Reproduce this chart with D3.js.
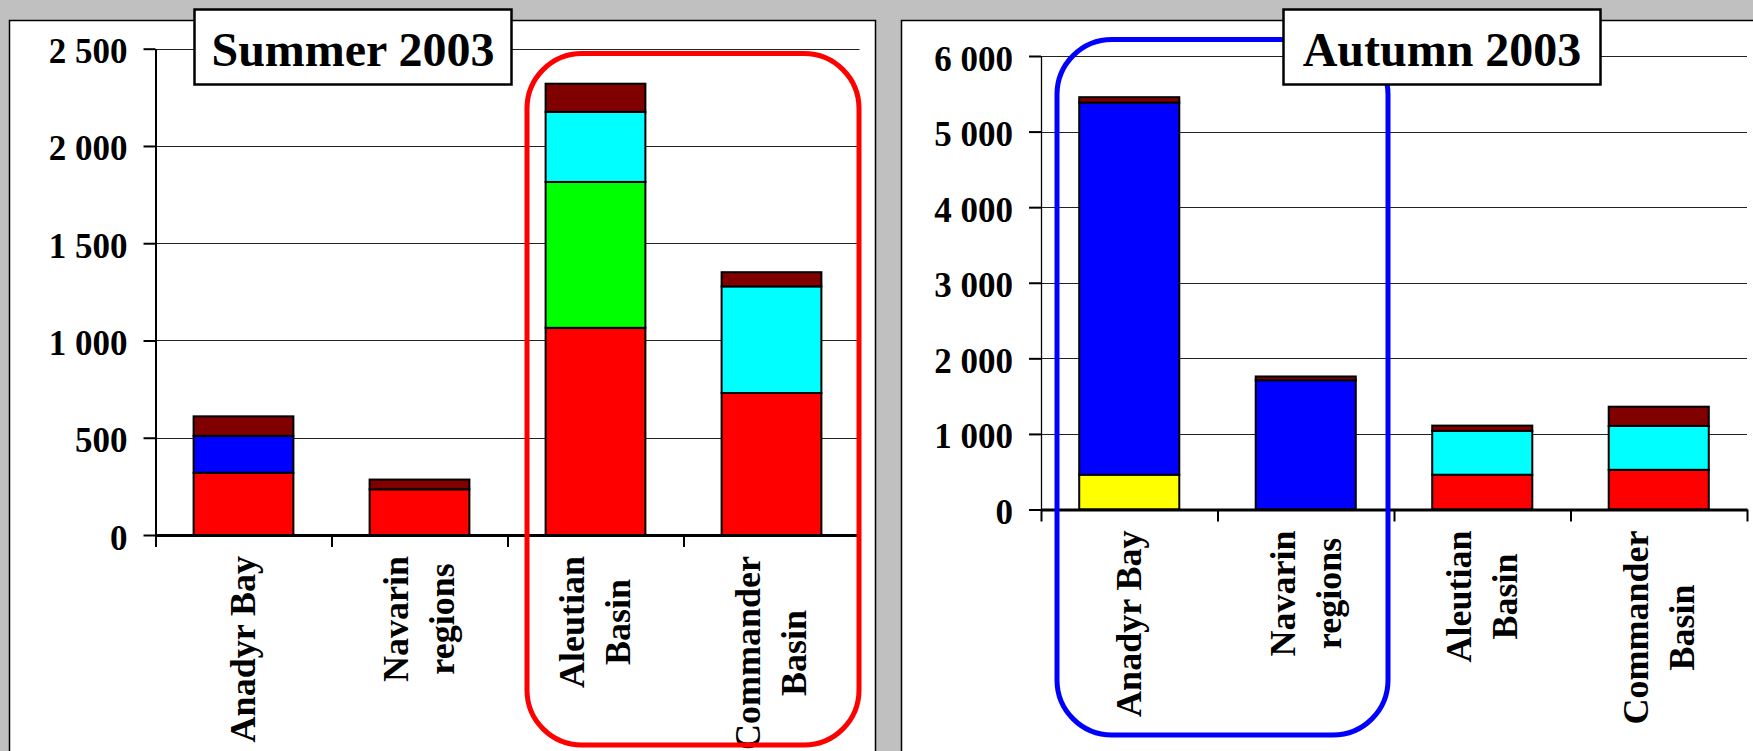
<!DOCTYPE html>
<html>
<head>
<meta charset="utf-8">
<script src="https://cdn.jsdelivr.net/npm/d3@7"></script>
<style>
  html, body { margin: 0; padding: 0; background: #C0C0C0; }
  svg { display: block; }
  text { font-family: "Liberation Serif", "Times New Roman", serif; font-weight: bold; fill: #000; }
</style>
</head>
<body>
<svg id="chart" width="1753" height="751"></svg>
<script>
// ---------- DATA ----------
const categories = ["Anadyr Bay", "Navarin regions", "Aleutian Basin", "Commander Basin"];
const categoryLines = [["Anadyr Bay"], ["Navarin", "regions"], ["Aleutian", "Basin"], ["Commander", "Basin"]];
const seriesKeys = ["yellow", "red", "blue", "green", "cyan", "darkred"];
const seriesColors = ["#FFFF00", "#FF0000", "#0000FF", "#00FF00", "#00FFFF", "#800000"];

const summerYellow  = [0, 0, 0, 0];
const summerRed     = [320, 235, 1065, 730];
const summerBlue    = [190, 0, 0, 0];
const summerGreen   = [0, 0, 750, 0];
const summerCyan    = [0, 0, 360, 548];
const summerDarkRed = [100, 50, 145, 73];

const autumnYellow  = [460, 0, 0, 0];
const autumnRed     = [0, 0, 460, 525];
const autumnBlue    = [4925, 1710, 0, 0];
const autumnGreen   = [0, 0, 0, 0];
const autumnCyan    = [0, 0, 580, 580];
const autumnDarkRed = [70, 50, 70, 255];

const summerTicks = [0, 500, 1000, 1500, 2000, 2500];
const summerTickLabels = ["0", "500", "1 000", "1 500", "2 000", "2 500"];
const autumnTicks = [0, 1000, 2000, 3000, 4000, 5000, 6000];
const autumnTickLabels = ["0", "1 000", "2 000", "3 000", "4 000", "5 000", "6 000"];

const summerTitle = "Summer 2003";
const autumnTitle = "Autumn 2003";

// ---------- DRAW ----------
const svg = d3.select("#chart");

function buildRows(arrs) {
  return categories.map((c, i) => {
    const row = { category: c };
    seriesKeys.forEach((k, j) => row[k] = arrs[j][i]);
    return row;
  });
}

function panel(cfg) {
  const g = svg.append("g");
  // white panel
  g.append("rect")
    .attr("x", cfg.panelX).attr("y", 20.5)
    .attr("width", cfg.panelW).attr("height", 760)
    .attr("fill", "#fff").attr("stroke", "#000").attr("stroke-width", 1.5);

  const x0 = cfg.axisX, x1 = cfg.axisX + 4 * cfg.step;
  const y = d3.scaleLinear().domain([0, cfg.max]).range([cfg.y0, cfg.yTop]);
  const x = d3.scaleBand().domain(categories).range([x0, x1])
    .paddingInner(0.433).paddingOuter(0.2165);

  // gridlines
  g.append("g").selectAll("line").data(cfg.ticks.filter(t => t > 0)).join("line")
    .attr("x1", x0).attr("x2", x1)
    .attr("y1", d => Math.round(y(d)) + 0.5).attr("y2", d => Math.round(y(d)) + 0.5)
    .attr("stroke", "#222").attr("stroke-width", 1.2);

  // bars
  const rows = buildRows(cfg.data);
  const stacked = d3.stack().keys(seriesKeys)(rows);
  g.append("g").selectAll("g").data(stacked).join("g")
    .attr("fill", (d, i) => seriesColors[i])
    .selectAll("rect").data(d => d.filter(s => s[1] - s[0] > 0)).join("rect")
    .attr("x", d => x(d.data.category))
    .attr("width", x.bandwidth())
    .attr("y", d => y(d[1]))
    .attr("height", d => y(d[0]) - y(d[1]))
    .attr("stroke", "#000").attr("stroke-width", 2);

  // y axis
  const yAxis = d3.axisLeft(y).tickValues(cfg.ticks)
    .tickFormat((d, i) => cfg.tickLabels[i])
    .tickSize(12).tickSizeOuter(0).tickPadding(16);
  const ya = g.append("g").attr("transform", `translate(${x0},0)`).call(yAxis);
  ya.select(".domain").attr("stroke", "#000").attr("stroke-width", cfg.yAxisW);
  ya.selectAll(".tick line").attr("stroke", "#000").attr("stroke-width", 2);
  ya.selectAll(".tick text")
    .style("font-family", '"Liberation Serif", "Times New Roman", serif')
    .style("font-weight", "bold").attr("font-size", 35).attr("dy", "0.4em").attr("fill", "#000");

  // x axis (ticks at band boundaries)
  const xb = d3.scaleLinear().domain([0, 4]).range([x0, x1]);
  const xAxis = d3.axisBottom(xb).tickValues(cfg.xTickIdx).tickFormat("")
    .tickSize(12).tickSizeOuter(0);
  const xa = g.append("g").attr("transform", `translate(0,${cfg.y0})`).call(xAxis);
  xa.select(".domain").attr("stroke", "#000").attr("stroke-width", 3);
  xa.selectAll(".tick line").attr("stroke", "#000").attr("stroke-width", 2);

  // category labels (rotated)
  const fs = 36, capH = 0.662 * fs, lh = 46, gap = 21;
  categoryLines.forEach((lines, i) => {
    const cx = x(categories[i]) + x.bandwidth() / 2;
    const lg = g.append("g");
    const texts = lines.map(t => lg.append("text")
      .attr("font-size", fs).attr("text-anchor", "middle").text(t));
    const B = d3.max(texts, t => t.node().getComputedTextLength());
    const blockH = capH + (lines.length - 1) * lh;
    texts.forEach((t, j) => t.attr("x", 0).attr("y", -blockH / 2 + capH + j * lh));
    lg.attr("transform", `translate(${cx},${cfg.y0 + gap + B / 2}) rotate(-90)`);
  });

  // highlight rounded rectangle
  g.append("rect")
    .attr("x", cfg.hl.x).attr("y", cfg.hl.y)
    .attr("width", cfg.hl.w).attr("height", cfg.hl.h)
    .attr("rx", 55).attr("ry", 55)
    .attr("fill", "none").attr("stroke", cfg.hl.color).attr("stroke-width", 5);

  // title box
  g.append("rect")
    .attr("x", cfg.title.x).attr("y", 9.5)
    .attr("width", cfg.title.w).attr("height", 75)
    .attr("fill", "#fff").attr("stroke", "#000").attr("stroke-width", 2.5);
  g.append("text")
    .attr("x", cfg.title.x + cfg.title.w / 2).attr("y", 66)
    .attr("text-anchor", "middle").attr("font-size", 48)
    .text(cfg.title.text);
}

panel({
  panelX: 9.5, panelW: 866,
  axisX: 155.5, step: 176, y0: 535, yTop: 48.7, max: 2500, yAxisW: 2,
  xTickIdx: [0, 1, 2, 3],
  ticks: summerTicks, tickLabels: summerTickLabels,
  data: [summerYellow, summerRed, summerBlue, summerGreen, summerCyan, summerDarkRed],
  hl: { x: 527, y: 53.5, w: 332, h: 691.5, color: "#FF0000" },
  title: { x: 194.5, w: 317, text: summerTitle }
});

panel({
  panelX: 901.5, panelW: 900,
  axisX: 1041, step: 176.5, y0: 509.5, yTop: 56, max: 6000, yAxisW: 1.3,
  xTickIdx: [0, 1, 2, 3, 4],
  ticks: autumnTicks, tickLabels: autumnTickLabels,
  data: [autumnYellow, autumnRed, autumnBlue, autumnGreen, autumnCyan, autumnDarkRed],
  hl: { x: 1057, y: 39.5, w: 331, h: 695.5, color: "#0000FF" },
  title: { x: 1283.5, w: 317, text: autumnTitle }
});
</script>
</body>
</html>
